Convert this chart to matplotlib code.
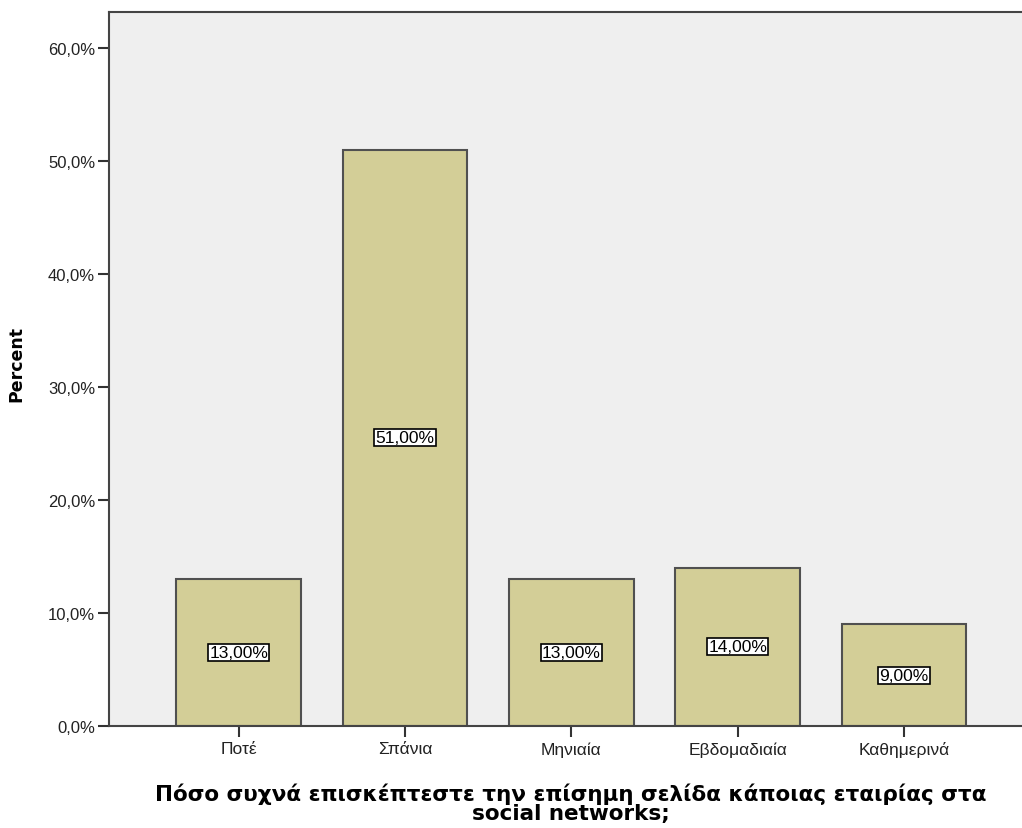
import matplotlib
matplotlib.use("Agg")
import matplotlib.pyplot as plt
from matplotlib.ticker import FuncFormatter

categories = ["Ποτέ", "Σπάνια", "Μηνιαία", "Εβδομαδιαία", "Καθημερινά"]
percents = [13.0, 51.0, 13.0, 14.0, 9.0]
y_ticks = [0, 10, 20, 30, 40, 50, 60]

plt.rcParams["font.family"] = ["Liberation Sans", "DejaVu Sans"]

fig = plt.figure(figsize=(10.22, 8.29), dpi=100)
ax = fig.add_axes([109 / 1022, (829 - 727) / 829, 1 - 109 / 1022, (727 - 13) / 829])
ax.set_facecolor("#efefef")

x = list(range(len(categories)))
ax.bar(x, percents, width=0.75, color="#d3ce97", edgecolor="#505050", linewidth=1.5, zorder=2)

for xi, v in zip(x, percents):
    ax.text(xi, v / 2, f"{v:.2f}%".replace(".", ","), ha="center", va="center",
            fontsize=12.5, color="black", zorder=3,
            bbox=dict(boxstyle="square,pad=0.06", facecolor="white", edgecolor="black", linewidth=1.2))

ax.set_xlim(-0.78, 4.71)
ax.set_ylim(0, 63.2)
ax.set_yticks(y_ticks)
ax.yaxis.set_major_formatter(FuncFormatter(lambda v, _: f"{v:.1f}%".replace(".", ",")))
ax.set_xticks(x)
ax.set_xticklabels(categories)
ax.tick_params(axis="both", colors="#333333", length=8, width=1.5)
ax.tick_params(axis="x", labelsize=12.5, labelcolor="#222222", pad=3)
ax.tick_params(axis="y", labelsize=12, labelcolor="#222222", pad=2)

for side in ("left", "top", "bottom"):
    ax.spines[side].set_color("#444444")
    ax.spines[side].set_linewidth(1.5)
ax.spines["right"].set_visible(False)

ax.set_ylabel("Percent", fontsize=12.5, fontweight="bold", family=["DejaVu Sans"])
ax.yaxis.set_label_coords(-0.092, 0.509)

fig.text(571 / 1022, (829 - 804) / 829,
         "Πόσο συχνά επισκέπτεστε την επίσημη σελίδα κάποιας εταιρίας στα\nsocial networks;",
         ha="center", va="center", fontsize=15.5, fontweight="bold", family=["DejaVu Sans"],
         linespacing=0.92)

fig.savefig("out.png", dpi=100)
